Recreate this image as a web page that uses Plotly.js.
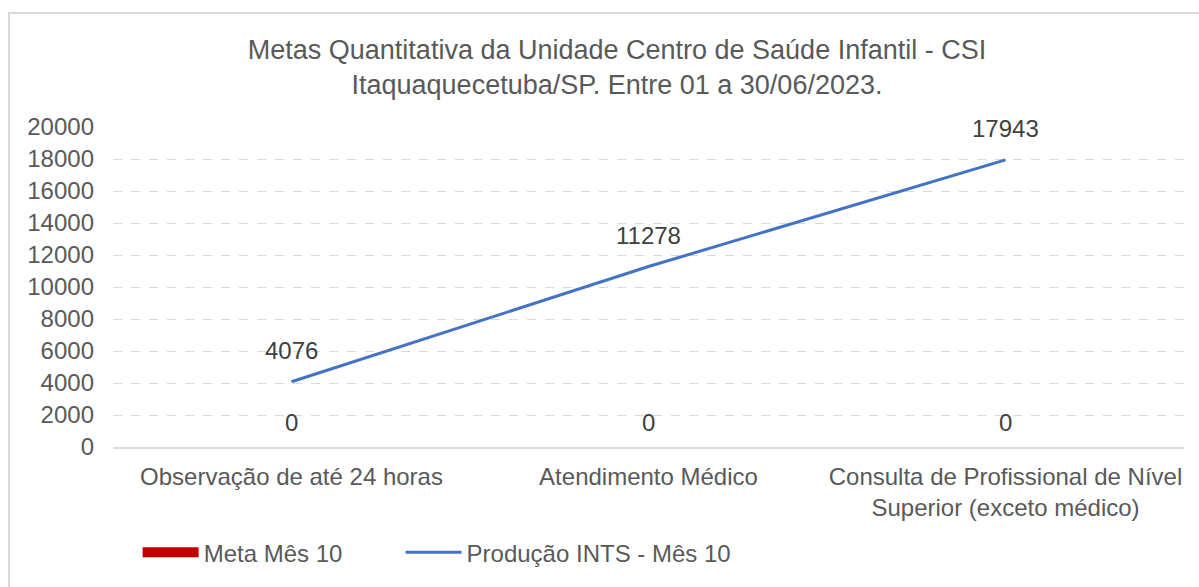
<!DOCTYPE html>
<html>
<head>
<meta charset="utf-8">
<script src="https://cdn.plot.ly/plotly-3.0.1.min.js"></script>
<style>
html,body{margin:0;padding:0;background:#fff;}
#frame{position:absolute;left:8px;top:12px;width:1300px;height:700px;border:2px solid #d9d9d9;box-sizing:border-box;pointer-events:none;z-index:5;}
#chart{position:absolute;left:0;top:0;width:1199px;height:587px;}
</style>
</head>
<body>
<div id="chart"></div>
<div id="frame"></div>
<script>
var categories = ["Observação de até 24 horas", "Atendimento Médico", "Consulta de Profissional de Nível<br>Superior (exceto médico)"];
var metaValues = [0, 0, 0];
var producaoValues = [4076, 11278, 17943];
var seriesNames = ["Meta Mês 10", "Produção INTS - Mês 10"];
var yTicks = [0, 2000, 4000, 6000, 8000, 10000, 12000, 14000, 16000, 18000, 20000];

var font = "Liberation Sans, Arial, sans-serif";

var traces = [
  {type: "bar", x: categories, y: metaValues, name: seriesNames[0], marker: {color: "#c00000"}, showlegend: false, hoverinfo: "skip"},
  {type: "scatter", mode: "lines", x: [null], y: [null], name: seriesNames[0], line: {color: "#c00000", width: 17}, showlegend: true, legend: "legend"},
  {type: "scatter", mode: "lines", x: categories, y: producaoValues, name: seriesNames[1], line: {color: "#4472c4", width: 3}, legend: "legend2"}
];

var annotations = [];
categories.forEach(function(c, i){
  annotations.push({x: c, y: producaoValues[i], xref: "x", yref: "y", text: String(producaoValues[i]), showarrow: false, yshift: 31, font: {family: font, size: 24, color: "#404040"}});
  annotations.push({x: c, y: metaValues[i], xref: "x", yref: "y", text: String(metaValues[i]), showarrow: false, yshift: 25, font: {family: font, size: 24, color: "#404040"}});
});

var legendFont = {family: font, size: 24, color: "#595959"};

var layout = {
  width: 1199, height: 587,
  margin: {l: 113, r: 15, t: 127, b: 138},
  paper_bgcolor: "#ffffff", plot_bgcolor: "#ffffff",
  font: {family: font, color: "#595959", size: 24},
  title: {text: "Metas Quantitativa da Unidade Centro de Saúde Infantil - CSI<br>Itaquaquecetuba/SP. Entre 01 a 30/06/2023.", x: 0.5146, xanchor: "center", y: 0.900, yanchor: "middle", font: {family: font, size: 27, color: "#595959"}},
  xaxis: {type: "category", showgrid: false, zeroline: false, showline: true, linecolor: "#d9d9d9", linewidth: 2, ticks: "", ticklabelstandoff: 7, tickfont: {family: font, size: 24, color: "#595959"}, range: [-0.5, 2.5]},
  yaxis: {range: [0, 20000], tickvals: yTicks, ticktext: yTicks.map(String), showgrid: true, gridcolor: "#d9d9d9", griddash: "dash", gridwidth: 1, zeroline: false, showline: false, ticks: "", ticklabelstandoff: 18, tickfont: {family: font, size: 24, color: "#595959"}},
  showlegend: true,
  legend: {orientation: "h", x: 0.023, xanchor: "left", y: -0.33, yanchor: "middle", itemwidth: 56, font: legendFont},
  legend2: {orientation: "h", x: 0.2685, xanchor: "left", y: -0.33, yanchor: "middle", itemwidth: 56, font: legendFont},
  annotations: annotations,
  bargap: 0.6
};

Plotly.newPlot("chart", traces, layout, {displayModeBar: false, staticPlot: true});
</script>
</body>
</html>
